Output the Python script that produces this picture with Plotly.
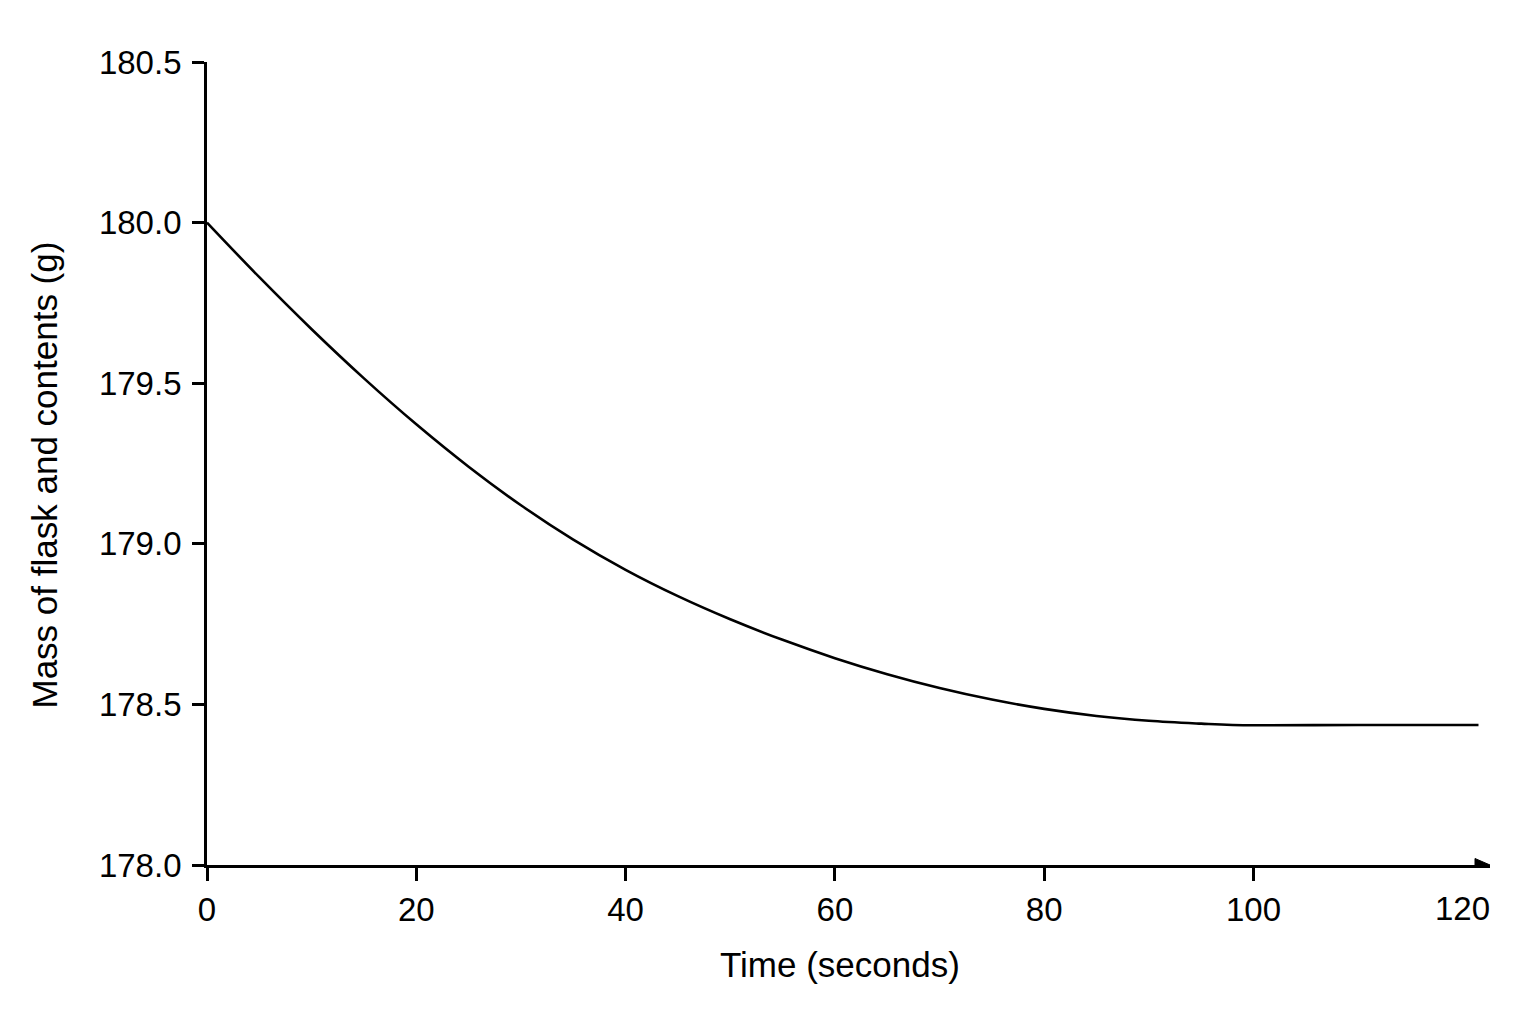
import plotly.graph_objects as go

# mass of flask and contents
time_s = [0, 5, 10, 15, 20, 25, 30, 35, 40, 45, 50, 55, 60, 65, 70, 75, 80, 85, 90, 95, 98, 110, 121.5]
mass_g = [180.000, 179.830, 179.668, 179.515, 179.372, 179.240, 179.120, 179.013, 178.919, 178.837,
          178.765, 178.701, 178.644, 178.594, 178.551, 178.515, 178.486, 178.464, 178.449, 178.440,
          178.436, 178.436, 178.436]

x_ticks = [0, 20, 40, 60, 80, 100]
y_ticks = [178.0, 178.5, 179.0, 179.5, 180.0, 180.5]
y_labels = ["178.0", "178.5", "179.0", "179.5", "180.0", "180.5"]

x_end = 122.6
font = "Liberation Sans, Arial, sans-serif"

fig = go.Figure()
fig.add_trace(go.Scatter(
    x=time_s, y=mass_g, mode="lines",
    line=dict(color="black", width=2.6, shape="spline", smoothing=1.0),
    hoverinfo="skip", showlegend=False
))

fig.update_xaxes(
    range=[0, x_end], tickvals=x_ticks, ticks="outside", ticklen=13, tickwidth=2.6,
    tickcolor="black", showline=True, linecolor="black", linewidth=2.8,
    showgrid=False, zeroline=False, tickfont=dict(size=33, color="black")
)
fig.update_yaxes(
    range=[178.0, 180.5], tickvals=y_ticks, ticktext=y_labels, ticks="outside",
    ticklen=12, tickwidth=2.6, tickcolor="black", showline=True, linecolor="black",
    linewidth=2.8, showgrid=False, zeroline=False, tickfont=dict(size=33, color="black"),
    ticklabelstandoff=4
)

# axis titles placed by hand
fig.add_annotation(x=0.5, y=0, xref="paper", yref="paper", xanchor="center", yanchor="middle",
                   xshift=-9, yshift=-99, text="Time (seconds)", showarrow=False,
                   font=dict(size=35, color="black"))
fig.add_annotation(x=0, y=0.5, xref="paper", yref="paper", xanchor="center", yanchor="middle",
                   xshift=-163, yshift=-12, text="Mass of flask and contents (g)",
                   textangle=-90, showarrow=False, font=dict(size=35, color="black"))

# 120 is labelled but carries no tick (the arrow sits there)
fig.add_annotation(x=120, y=0, xref="x", yref="paper", yanchor="top", yshift=-23,
                   text="120", showarrow=False, font=dict(size=33, color="black"))

# arrowhead at the end of the time axis
fig.add_shape(type="path", xref="x", yref="y", xsizemode="pixel", ysizemode="pixel",
              xanchor=x_end, yanchor=178.0, path="M -15 -6.5 L 0 0 L -15 6.5 Z",
              fillcolor="black", line=dict(color="black", width=1))

fig.update_layout(
    width=1520, height=1008,
    margin=dict(l=199, r=38, t=54, b=151),
    plot_bgcolor="white", paper_bgcolor="white",
    font=dict(family=font, color="black")
)

fig.write_html("out.html")
